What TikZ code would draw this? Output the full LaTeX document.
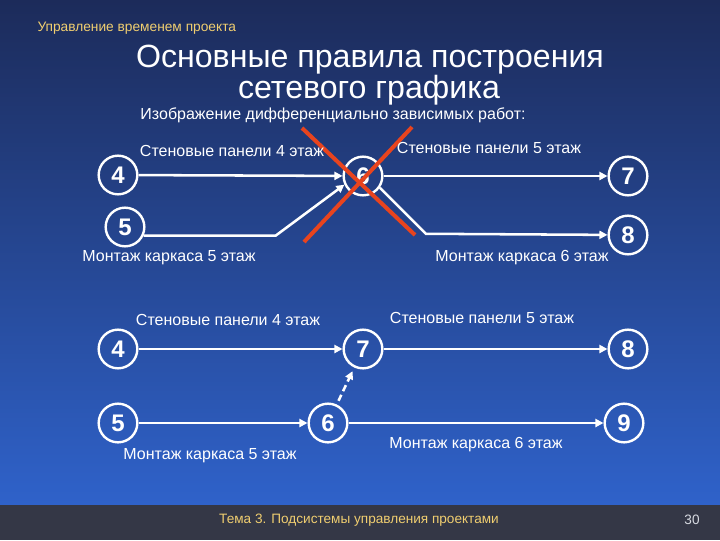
\documentclass[tikz,border=0pt]{standalone}
\usepackage{fontspec}
\setmainfont{Liberation Sans}
\usetikzlibrary{arrows.meta}

\definecolor{bgtop}{RGB}{28,43,90}
\definecolor{bgbot}{RGB}{47,98,202}
\definecolor{footbg}{RGB}{52,55,70}
\definecolor{headyel}{RGB}{240,206,112}
\definecolor{crossred}{RGB}{232,68,30}
\definecolor{pagegrey}{RGB}{215,218,225}

\tikzset{every picture/.style={line width=0.75pt}}
\tikzset{
  event/.style={circle,draw=white,line width=1.8pt,minimum size=29pt,inner sep=0pt,
    text=white,font=\fontsize{18}{18}\selectfont\bfseries},
  work/.style={draw=white,line width=1.9pt,-{Triangle[length=6pt,width=6pt]}},
  fake/.style={work,dash pattern={on 5pt off 3pt},shorten <=3pt,shorten >=3pt},
  lbl/.style={text=white,font=\fontsize{12}{14}\selectfont,inner sep=0.75pt},
  ttl/.style={text=white,font=\fontsize{24.1}{24}\selectfont,inner sep=0pt,anchor=base},
  cross/.style={draw=crossred,line width=3pt}
}

\begin{document}
\begin{tikzpicture}[x=0.75pt,y=0.75pt,yscale=-1,xscale=1]
\useasboundingbox (0,0) rectangle (720,540);

%Shape: Background
\shade [top color=bgtop,bottom color=bgbot] (0,0) rectangle (720,505);
%Shape: Footer band
\fill [footbg] (0,505) rectangle (720,540);

% Text Node
\draw (36,28) node [anchor=west,inner sep=0.75pt,text=headyel,font=\fontsize{10.3}{12}\selectfont] {Управление временем проекта};
% Text Node
\draw (370,67) node [ttl] {Основные правила построения};
% Text Node
\draw (369,98) node [ttl] {сетевого графика};
% Text Node
\draw (333,119) node [lbl,anchor=base,inner sep=0pt] {Изображение дифференциально зависимых работ:};

%Top network: events
\node [event] (t4) at (118,175) {4};
\node [event] (t5) at (125,227) {5};
\node [event] (t6) at (363,176) {6};
\node [event] (t7) at (628,176) {7};
\node [event] (t8) at (628,235) {8};

%Top network: works
\draw [work] (t4) -- (t6);
\draw [work] (t5.-25) -- ++(132,0) -- (t6.205);
\draw [work] (t6) -- (t7);
\draw [work] (t6.-35) -- ++(46,46) -- (t8);

%Crossed-out event
\draw [cross] (302,128) -- (415,235);
\draw [cross] (412,127) -- (304,242);

% Text Node
\draw (232,151) node [lbl] {Стеновые панели 4 этаж};
% Text Node
\draw (489,148) node [lbl] {Стеновые панели 5 этаж};
% Text Node
\draw (169,258) node [lbl] {Монтаж каркаса 5 этаж};
% Text Node
\draw (522,258) node [lbl] {Монтаж каркаса 6 этаж};

%Bottom network: events
\node [event] (b4) at (118,349) {4};
\node [event] (b5) at (118,423) {5};
\node [event] (b6) at (328,423) {6};
\node [event] (b7) at (363,349) {7};
\node [event] (b8) at (628,349) {8};
\node [event] (b9) at (624,423) {9};

%Bottom network: works
\draw [work] (b4) -- (b7);
\draw [work] (b5) -- (b6);
\draw [fake] (b6) -- (b7);
\draw [work] (b7) -- (b8);
\draw [work] (b6) -- (b9);

% Text Node
\draw (228,320) node [lbl] {Стеновые панели 4 этаж};
% Text Node
\draw (482,318) node [lbl] {Стеновые панели 5 этаж};
% Text Node
\draw (210,456) node [lbl] {Монтаж каркаса 5 этаж};
% Text Node
\draw (476,445) node [lbl] {Монтаж каркаса 6 этаж};

% Text Node
\draw (359,520) node [inner sep=0.75pt,text=headyel,font=\fontsize{10.2}{12}\selectfont] {Тема 3. Подсистемы управления проектами};
% Text Node
\draw (692,520) node [inner sep=0.75pt,text=pagegrey,font=\fontsize{10.2}{12}\selectfont] {30};

\end{tikzpicture}
\end{document}
